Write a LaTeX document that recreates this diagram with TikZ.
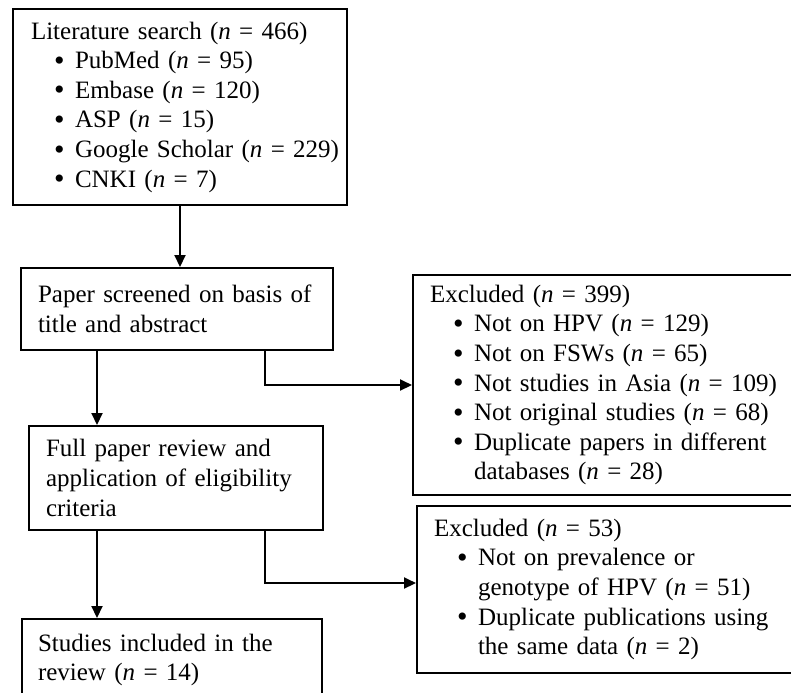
\documentclass[tikz,border=0pt]{standalone}
\usepackage{fontspec}
\setmainfont{Liberation Serif}
\usetikzlibrary{arrows.meta}

\newcommand{\hd}{\hspace*{6pt}}
\newcommand{\itm}{\hspace*{17.5pt}\makebox[10.5pt][l]{\raisebox{-0.8pt}{\scalebox{1.2}{\textbullet}}}}
\newcommand{\cnt}{\hspace*{28pt}}
\newcommand{\nn}[1]{(\textit{n} = #1)}
\newcommand{\jline}[1]{\makebox[\hsize][s]{#1}\\}

\begin{document}
\begin{tikzpicture}[x=0.5pt,y=0.5pt,
    box/.style={draw, line width=1pt, anchor=north west, align=left,
      inner xsep=8.5pt, inner ysep=0pt, font=\fontsize{12.5}{14.8}\selectfont},
    listbox/.style={box, inner xsep=2.5pt},
    flow/.style={line width=1pt, -{Triangle[length=6pt,width=5.5pt]}}]
    \useasboundingbox (0,0) rectangle (791,-692);
    \clip (0,0) rectangle (791,-692);

    % boxes
    \node[listbox, text width=161pt, inner xsep=3pt, minimum height=98pt] (search) at (12,-8)
      {\hd Literature search \nn{466}\\
       \itm PubMed \nn{95}\\
       \itm Embase \nn{120}\\
       \itm ASP \nn{15}\\
       \itm Google Scholar \nn{229}\\
       \itm CNKI \nn{7}};
    \node[box, text width=139pt, minimum height=41pt] (screen) at (20,-267)
      {\jline{Paper screened on basis of}title and abstract};
    \node[listbox, text width=189pt, minimum height=110pt] (excl1) at (412,-274)
      {\hd Excluded \nn{399}\\
       \itm Not on HPV \nn{129}\\
       \itm Not on FSWs \nn{65}\\
       \itm Not studies in Asia \nn{109}\\
       \itm Not original studies \nn{68}\\
       \itm Duplicate papers in different\\
       \cnt databases \nn{28}};
    \node[box, text width=130pt, minimum height=52pt] (full) at (28,-425)
      {\jline{Full paper review and}\jline{application of eligibility}criteria};
    \node[listbox, text width=187pt, minimum height=83.5pt] (excl2) at (416,-505)
      {\hd Excluded \nn{53}\\
       \itm Not on prevalence or\\
       \cnt genotype of HPV \nn{51}\\
       \itm Duplicate publications using\\
       \cnt the same data \nn{2}};
    \node[box, text width=134pt, inner xsep=8pt, minimum height=41pt] (incl) at (21,-618)
      {\jline{Studies included in the}review \nn{14}};

    % connectors
    \coordinate (spine) at (97,0);
    \coordinate (branch) at (265,0);
    \draw[flow] (search.south) -- (search.south |- screen.north);
    \draw[flow] (spine |- screen.south) -- (spine |- full.north);
    \draw[flow] (branch |- screen.south) |- (excl1.west);
    \draw[flow] (spine |- full.south) -- (spine |- incl.north);
    \draw[flow] (branch |- full.south) |- ([yshift=3.25pt]excl2.west);
\end{tikzpicture}
\end{document}
